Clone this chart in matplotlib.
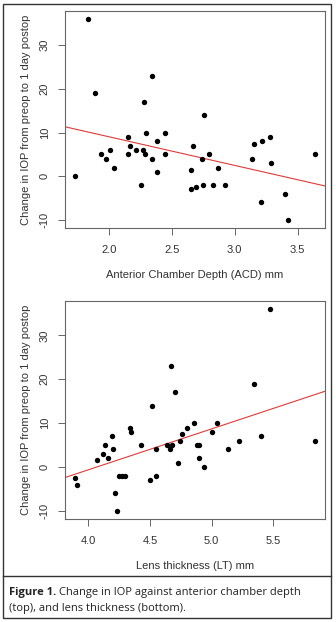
import matplotlib
matplotlib.use("Agg")
import matplotlib.pyplot as plt
from matplotlib.patches import Rectangle
from matplotlib.lines import Line2D
import numpy as np

plt.rcParams['font.family'] = ['Liberation Sans', 'DejaVu Sans']

# ---- data: top panel (ACD) ----
acd = [1.73, 1.84, 1.89, 1.94, 1.98, 2.01, 2.04, 2.15, 2.15, 2.17, 2.22, 2.26, 2.27, 2.28,
       2.29, 2.30, 2.34, 2.34, 2.38, 2.38, 2.45, 2.45, 2.65, 2.65, 2.67, 2.69, 2.74, 2.75,
       2.76, 2.80, 2.83, 2.87, 2.92, 3.14, 3.15, 3.21, 3.22, 3.28, 3.29, 3.40, 3.42, 3.64]
iop_acd = [0, 36, 19, 5, 4, 6, 2, 9, 5, 7, 6, -2, 6, 17,
           5, 10, 23, 4, 8, 1, 10, 5, 1.5, -3, 7, -2.5, 4, -2,
           14, 5, -2, 2, -2, 4, 7.5, -6, 8, 9, 3, -4, -10, 5]
fit_acd = (-6.57, 22.2)   # slope, intercept

# ---- data: bottom panel (LT) ----
lt = [3.89, 3.91, 4.07, 4.12, 4.14, 4.16, 4.19, 4.20, 4.22, 4.23, 4.25, 4.27, 4.30, 4.34,
      4.35, 4.43, 4.50, 4.52, 4.55, 4.55, 4.64, 4.66, 4.67, 4.68, 4.70, 4.73, 4.74, 4.76,
      4.80, 4.86, 4.88, 4.90, 4.90, 4.94, 5.00, 5.04, 5.13, 5.22, 5.34, 5.40, 5.47, 5.84]
iop_lt = [-2.5, -4, 1.5, 3, 5, 2, 7, 4, -6, -10, -2, -2, -2, 9,
          8, 5, -3, 14, 4, -2, 5, 4, 23, 5, 17, 1, 6, 7.5,
          9, 10, 5, 5, 2, 0, 8, 10, 4, 6, 19, 7, 36, 6]
fit_lt = (9.34, -38.0)

acd_ticks = [2.0, 2.5, 3.0, 3.5]
lt_ticks = [4.0, 4.5, 5.0, 5.5]
y_ticks = [-10, 0, 10, 20, 30]

ylabel = "Change in IOP from preop to 1 day postop"
xlabel_top = "Anterior Chamber Depth (ACD) mm"
xlabel_bot = "Lens thickness (LT) mm"

W, H = 336, 622
fig = plt.figure(figsize=(W / 100, H / 100), dpi=100)

def ax_rect(x0, y0, x1, y1):
    return [x0 / W, 1 - y1 / H, (x1 - x0) / W, (y1 - y0) / H]

def r_lim(vals):
    lo, hi = min(vals), max(vals)
    pad = 0.04 * (hi - lo)
    return lo - pad, hi + pad

framec = '#666666'
txtc = '#333333'
fs = 8.0

def panel(rect, xs, ys, fit, xticks, xlabel):
    ax = fig.add_axes(rect)
    ax.scatter(xs, ys, s=15, color='black', zorder=3, linewidths=0)
    xl = r_lim(xs)
    yl = r_lim(ys)
    ax.set_xlim(xl)
    ax.set_ylim(yl)
    xx = np.array(xl)
    ax.plot(xx, fit[0] * xx + fit[1], color='#e03a3a', lw=0.8, zorder=2)
    ax.set_xticks(xticks)
    ax.set_xticklabels([f"{t:.1f}" for t in xticks])
    ax.set_yticks(y_ticks)
    ax.set_yticklabels([str(t) for t in y_ticks], rotation=90, va='center')
    for sp in ax.spines.values():
        sp.set_color(framec)
        sp.set_linewidth(0.8)
    ax.tick_params(axis='both', direction='out', length=5, width=0.7, color=framec,
                   labelsize=fs, labelcolor=txtc)
    ax.tick_params(axis='x', pad=7)
    ax.tick_params(axis='y', pad=6)
    ax.set_xlabel(xlabel, fontsize=fs, color=txtc, labelpad=11)
    ax.set_ylabel(ylabel, fontsize=fs, color=txtc, labelpad=6)
    return ax

panel(ax_rect(65, 11, 325, 228), acd, iop_acd, fit_acd, acd_ticks, xlabel_top)
panel(ax_rect(65, 301, 325, 519), lt, iop_lt, fit_lt, lt_ticks, xlabel_bot)

# outer frame and caption divider
fig.add_artist(Rectangle((3 / W, 1 - 618 / H), (331 - 3) / W, (618 - 4) / H,
                         transform=fig.transFigure, fill=False, edgecolor='#333333', lw=1.0))
fig.add_artist(Line2D([3 / W, 331 / W], [1 - 576 / H, 1 - 576 / H],
                      transform=fig.transFigure, color='#333333', lw=1.0))

# caption
cap_font = ['Open Sans', 'DejaVu Sans']
cfs = 8.0
t1 = fig.text(9 / W, 1 - 592 / H, "Figure 1.", fontsize=cfs, fontweight='bold',
              family=cap_font, va='center', ha='left', color='#222222')
fig.canvas.draw()
bb = t1.get_window_extent()
x_next = (bb.x1 + 3) / W
fig.text(x_next, 1 - 592 / H, "Change in IOP against anterior chamber depth", fontsize=cfs,
         family=cap_font, va='center', ha='left', color='#222222')
fig.text(9 / W, 1 - 608 / H, "(top), and lens thickness (bottom).", fontsize=cfs,
         family=cap_font, va='center', ha='left', color='#222222')

fig.savefig("out.png", dpi=100)
